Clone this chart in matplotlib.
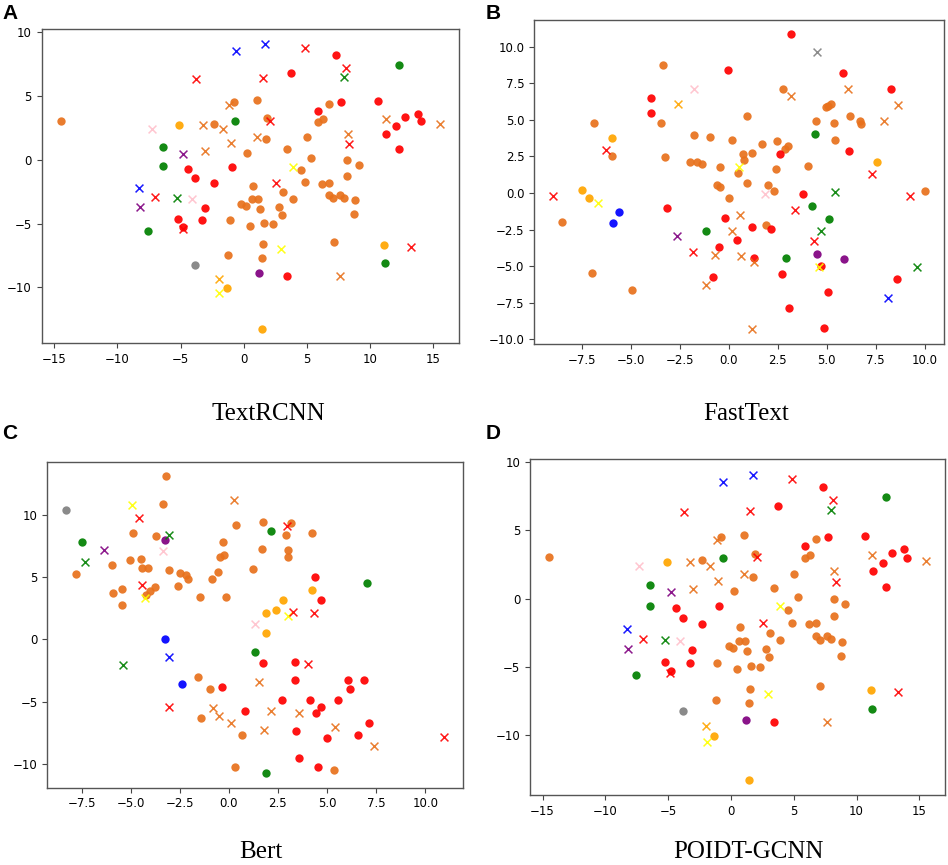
import matplotlib
matplotlib.use("Agg")
from matplotlib import pyplot as plt

# kind code -> (colour, marker)
kinds = {
    "do": ("#e8711c", "o"), "dx": ("#e8711c", "x"),
    "ro": ("red", "o"), "rx": ("red", "x"),
    "go": ("green", "o"), "gx": ("green", "x"),
    "oo": ("orange", "o"), "ox": ("orange", "x"),
    "bo": ("blue", "o"), "bx": ("blue", "x"),
    "po": ("purple", "o"), "px": ("purple", "x"),
    "ko": ("gray", "o"), "kx": ("gray", "x"),
    "yx": ("yellow", "x"), "ix": ("pink", "x"),
}

# ---- A: TextRCNN ----
textrcnn_x = {
    "do": [-14.5, -0.78, 1.04, 1.89, -2.34, 1.79, 0.25, 3.45, 4.99, 5.31, 5.86, 6.26, 6.74, 8.22, 9.12,
           8.22, 4.51, 4.86, 6.23, 6.74, 0.73, 0.67, 1.15, 3.11, 3.88, -0.18, 0.2, 1.31, 2.77, 3.0,
           -1.1, 0.51, 1.6, 2.29, 6.79, 7.1, 7.64, 7.93, 8.85, 8.75, 7.13, 1.55, -1.21, 1.47],
    "ro": [7.32, 3.72, 7.72, 5.86, 10.66, 13.8, 14.04, 12.8, 12.11, 11.32, 12.32, -4.41, -3.85, -0.94,
           -2.34, -3.09, -5.23, -3.3, -4.78, 3.45],
    "go": [12.32, -0.65, -6.42, -6.42, -7.56, 11.21],
    "oo": [-5.1, 11.13, -1.34, 1.47],
    "ko": [-3.83],
    "po": [1.18],
    "bx": [-0.63, 1.73, -8.3],
    "rx": [-3.75, 1.55, 4.86, 8.11, 2.1, 8.38, 2.58, -7.03, -4.83, 13.28],
    "dx": [-1.15, -3.25, -1.64, -3.03, -1.02, 1.04, 11.27, 8.24, 15.55, 7.64],
    "gx": [7.93, -5.29],
    "ix": [-7.3, -4.09],
    "px": [-4.78, -8.22],
    "yx": [3.93, 2.93, -1.92],
    "ox": [-1.98],
}
textrcnn_y = {
    "do": [3.06, 4.48, 4.66, 3.26, 2.8, 1.6, 0.54, 0.8, 1.76, 0.1, 2.95, 3.19, 4.33, -0.05, -0.39,
           -1.3, -0.85, -1.76, -1.89, -1.79, -2.07, -3.11, -3.11, -2.51, -3.06, -3.5, -3.63, -3.83, -3.68, -4.3,
           -4.69, -5.16, -4.95, -5.03, -2.77, -3.03, -2.77, -2.98, -3.16, -4.22, -6.42, -6.6, -7.43, -7.67],
    "ro": [8.19, 6.74, 4.48, 3.81, 4.61, 3.6, 3.0, 3.34, 2.62, 2.02, 0.83, -0.7, -1.42, -0.54,
           -1.84, -3.78, -4.64, -4.69, -5.28, -9.07],
    "go": [7.41, 3.0, 0.96, -0.52, -5.62, -8.08],
    "oo": [2.67, -6.68, -10.05, -13.26],
    "ko": [-8.21],
    "po": [-8.86],
    "bx": [8.5, 9.07, -2.25],
    "rx": [6.32, 6.4, 8.73, 7.2, 3.06, 1.22, -1.81, -2.95, -5.44, -6.81],
    "dx": [4.27, 2.67, 2.36, 0.67, 1.27, 1.76, 3.21, 2.02, 2.75, -9.07],
    "gx": [6.5, -3.03],
    "ix": [2.36, -3.08],
    "px": [0.47, -3.7],
    "yx": [-0.54, -6.97, -10.47],
    "ox": [-9.33],
}

# ---- B: FastText ----
fasttext_x = {
    "do": [-3.37, -6.9, -3.44, -5.98, -3.27, -8.51, -6.99, -4.96, -1.75, -0.95, 0.16, 0.94, -1.97, -1.63,
           -1.36, -0.47, 0.45, 0.74, 0.79, 1.17, 1.68, 2.48, 2.88, 3.02, 2.77, 2.39, 2.02, 2.31, 0.91,
           -0.61, -0.47, -0.01, 1.88, 4.05, 4.47, 4.99, 5.09, 5.21, 5.36, 5.45, 6.2, 6.72, 6.76, 10.03],
    "ro": [3.19, -0.03, 5.82, 8.31, -3.99, -3.99, 2.63, 6.15, 3.77, -3.15, -0.18, 1.2, 2.14, 0.4,
           -0.49, 1.28, -0.81, 2.74, 4.71, 8.57, 5.09, 3.07, 4.85],
    "go": [4.42, 4.23, 5.14, -1.16, 2.9],
    "oo": [-5.98, 7.58, -7.5, -7.16],
    "bo": [-5.59, -5.93],
    "po": [4.53, 5.87],
    "kx": [4.51],
    "ix": [-1.79, 1.85],
    "ox": [-2.59],
    "dx": [3.19, 6.11, 8.62, 7.94, 0.57, 0.19, -0.68, 0.62, 1.3, -1.16, 1.18],
    "rx": [-8.98, -6.29, 3.36, 7.3, 9.27, -1.82, 4.38],
    "yx": [-6.7, 0.52, 4.61],
    "gx": [5.45, 4.71, 9.62],
    "px": [-2.64],
    "bx": [8.14],
}
fasttext_y = {
    "do": [8.75, 4.8, 4.8, 2.5, 2.45, -1.98, -5.48, -6.61, 3.95, 3.84, 3.59, 5.27, 2.14, 2.09,
           1.95, 1.75, 1.36, 2.64, 2.27, 2.75, 3.32, 3.55, 2.98, 3.23, 7.14, 1.66, 0.57, 0.16, 0.66,
           0.55, 0.41, -0.36, -2.18, 1.86, 4.91, 5.86, 5.95, 6.07, 4.8, 3.59, 5.27, 4.93, 4.73, 0.11],
    "ro": [10.84, 8.39, 8.2, 7.14, 6.48, 5.5, 2.64, 2.86, -0.07, -1.05, -1.7, -2.36, -2.48, -3.2,
           -3.68, -4.45, -5.77, -5.52, -4.98, -5.89, -6.8, -7.86, -9.25],
    "go": [4.0, -0.91, -1.8, -2.59, -4.45],
    "oo": [3.77, 2.14, 0.23, -0.36],
    "bo": [-1.27, -2.05],
    "po": [-4.14, -4.5],
    "kx": [9.61],
    "ix": [7.14, -0.07],
    "ox": [6.11],
    "dx": [6.64, 7.14, 6.05, 4.91, -1.48, -2.57, -4.27, -4.32, -4.73, -6.32, -9.32],
    "rx": [-0.18, 2.93, -1.16, 1.32, -0.18, -4.02, -3.3],
    "yx": [-0.68, 1.8, -5.09],
    "gx": [0.09, -2.59, -5.09],
    "px": [-2.91],
    "bx": [-7.16],
}

# ---- C: Bert ----
bert_x = {
    "do": [-3.21, -3.36, -4.88, -3.72, -7.77, -5.97, -5.05, -4.47, -4.4, -4.1, -5.88, -5.46, -5.46,
           -4.23, -3.99, -3.75, -3.07, -2.6, -2.48, -2.17, -2.07, -1.46, -0.86, -0.54, -0.44, -0.23,
           -0.28, -0.16, 0.38, 1.22, 1.69, 1.73, 2.9, 3.17, 3.04, 3.04, 4.25, -1.58, -0.95, -1.41,
           0.65, 0.31, 5.34],
    "ro": [4.4, 4.71, -0.33, 1.73, 3.38, 3.38, 2.7, 0.82, 4.14, 4.43, 4.71, 5.56, 6.09, 6.16, 6.89,
           3.43, 5.01, 6.56, 7.14, 3.6, 4.54],
    "go": [-7.47, 2.15, 7.06, 1.34, 1.91],
    "oo": [4.25, 2.75, 2.39, 1.91, 1.88],
    "ko": [-8.28],
    "po": [-3.24],
    "bo": [-3.24, -2.36],
    "yx": [-4.95, -4.25, 3.04],
    "rx": [-4.55, -4.44, 2.95, 3.29, 4.35, 4.03, -3.02, 10.95],
    "gx": [-3.07, -7.33, -5.39],
    "px": [-6.36],
    "ix": [-3.36, 1.34],
    "bx": [-3.07],
    "dx": [0.28, 1.54, -0.78, -0.52, 0.13, 2.14, 3.6, 1.81, 5.39, 7.41],
}
bert_y = {
    "do": [13.1, 10.88, 8.56, 8.34, 5.25, 6.0, 6.37, 6.5, 5.78, 5.73, 3.72, 4.05, 2.76,
           3.59, 3.86, 4.18, 5.57, 4.31, 5.35, 5.19, 4.85, 3.4, 4.87, 5.46, 6.64, 6.8,
           7.86, 3.4, 9.2, 5.67, 7.28, 9.44, 8.4, 9.33, 7.22, 6.64, 8.56, -3.0, -3.99, -6.34,
           -7.65, -10.29, -10.5],
    "ro": [5.01, 3.16, -3.83, -1.86, -1.78, -3.27, -4.9, -5.75, -4.85, -5.91, -5.41, -4.9, -3.22, -3.99, -3.27,
           -7.38, -7.94, -7.65, -6.74, -9.52, -10.24],
    "go": [7.84, 8.69, 4.5, -1.0, -10.72],
    "oo": [3.94, 3.16, 2.36, 2.1, 0.55],
    "ko": [10.4],
    "po": [7.97],
    "bo": [0.04, -3.56],
    "yx": [10.83, 3.3, 1.88],
    "rx": [9.76, 4.37, 9.12, 2.23, 2.12, -1.94, -5.46, -7.81],
    "gx": [8.42, 6.21, -2.02],
    "px": [7.2],
    "ix": [7.14, 1.22],
    "bx": [-1.38],
    "dx": [11.23, -3.43, -5.54, -6.18, -6.69, -5.75, -5.89, -7.25, -7.04, -8.58],
}

# ---- D: POIDT-GCNN (the reference shows the same embedding as panel A) ----
poidt_x = textrcnn_x
poidt_y = textrcnn_y

panels = [
    ("A", "TextRCNN", textrcnn_x, textrcnn_y, [0.044, 0.603, 0.440, 0.363], (268, 414)),
    ("B", "FastText", fasttext_x, fasttext_y, [0.5636, 0.6023, 0.4319, 0.3749], (746, 414)),
    ("C", "Bert", bert_x, bert_y, [0.0499, 0.0894, 0.4382, 0.3769], (261, 852)),
    ("D", "POIDT-GCNN", poidt_x, poidt_y, [0.5591, 0.0809, 0.4378, 0.3881], (748, 852)),
]
letter_pos = {"A": (2, 4), "B": (486, 4), "C": (2, 424), "D": (486, 424)}

W, H = 948, 865
fig = plt.figure(figsize=(W / 100, H / 100), dpi=100)

for letter, name, xs, ys, rect, (tx, ty) in panels:
    ax = fig.add_axes(rect)
    for k in xs:
        color, marker = kinds[k]
        if marker == "o":
            ax.scatter(xs[k], ys[k], c=color, marker="o", s=36, alpha=0.92, linewidths=0)
        else:
            ax.scatter(xs[k], ys[k], c=color, marker="x", s=32, linewidths=1.1, alpha=0.9)
    ax.tick_params(labelsize=8.5, length=3.5, color="#444444")
    for sp in ax.spines.values():
        sp.set_color("#555555")
        sp.set_linewidth(1.0)
    fig.text(tx / W, 1 - ty / H, name, ha="center", va="center",
             fontsize=18, family="Liberation Serif")
    lx, ly = letter_pos[letter]
    fig.text(lx / W, 1 - ly / H, letter, ha="left", va="top",
             fontsize=15, fontweight="bold", family="Liberation Sans")

fig.savefig("out.png", dpi=100)
